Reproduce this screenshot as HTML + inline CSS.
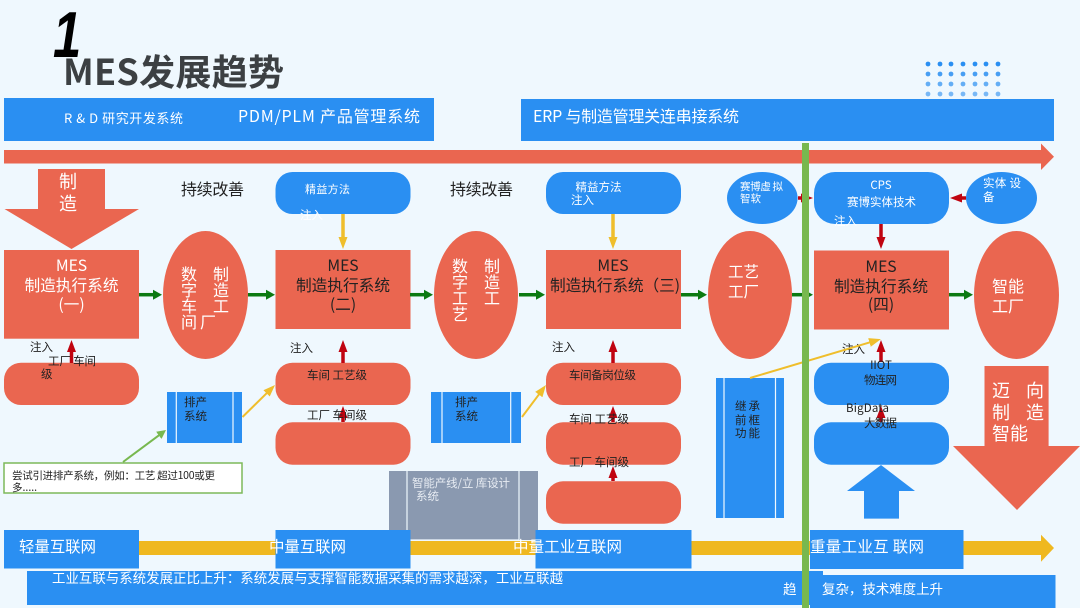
<!DOCTYPE html>
<html><head><meta charset="utf-8"><style>
html,body{margin:0;padding:0;background:#eff8fe}
svg{display:block;width:1080px;height:608px}
text{font-family:"Noto Sans CJK SC","Liberation Sans",sans-serif;font-size:11.5px;fill:#222}
.w{fill:#fff}
.m{font-size:15.7px}
.mw{font-size:15.7px;fill:#fff}
.c{text-anchor:middle}
.b{fill:#2a8ff2}
.r{fill:#ea6650}
</style></head><body>
<svg xmlns="http://www.w3.org/2000/svg" width="1080" height="608" viewBox="0 0 1080 608">
<rect width="1080" height="608" fill="#eff8fe"/>
<defs>
<marker id="g" markerUnits="userSpaceOnUse" markerWidth="10" markerHeight="12" refX="1" refY="6" orient="auto"><path d="M0 1L9 6L0 11Z" fill="#0c7a12"/></marker>
<marker id="rd" markerUnits="userSpaceOnUse" markerWidth="13" markerHeight="12" refX="1" refY="6" orient="auto"><path d="M0 1.5L12 6L0 10.5Z" fill="#c00410"/></marker>
<marker id="y" markerUnits="userSpaceOnUse" markerWidth="13" markerHeight="12" refX="1" refY="6" orient="auto"><path d="M0 1.5L12 6L0 10.5Z" fill="#efbe2c"/></marker>
<marker id="lg" markerUnits="userSpaceOnUse" markerWidth="11" markerHeight="12" refX="1" refY="6" orient="auto"><path d="M0 1.5L9 6L0 10.5Z" fill="#78b84f"/></marker>
</defs>

<!-- dots -->
<g fill="#2a8ff2">
<g opacity="1"><circle cx="928" cy="64" r="2.4"/><circle cx="940" cy="64" r="2.4"/><circle cx="951" cy="64" r="2.4"/><circle cx="963" cy="64" r="2.4"/><circle cx="975" cy="64" r="2.4"/><circle cx="986" cy="64" r="2.4"/><circle cx="998" cy="64" r="2.4"/></g>
<g opacity=".85"><circle cx="928" cy="74" r="2.4"/><circle cx="940" cy="74" r="2.4"/><circle cx="951" cy="74" r="2.4"/><circle cx="963" cy="74" r="2.4"/><circle cx="975" cy="74" r="2.4"/><circle cx="986" cy="74" r="2.4"/><circle cx="998" cy="74" r="2.4"/></g>
<g opacity=".7"><circle cx="928" cy="84" r="2.4"/><circle cx="940" cy="84" r="2.4"/><circle cx="951" cy="84" r="2.4"/><circle cx="963" cy="84" r="2.4"/><circle cx="975" cy="84" r="2.4"/><circle cx="986" cy="84" r="2.4"/><circle cx="998" cy="84" r="2.4"/></g>
<g opacity=".6"><circle cx="928" cy="94" r="2.4"/><circle cx="940" cy="94" r="2.4"/><circle cx="951" cy="94" r="2.4"/><circle cx="963" cy="94" r="2.4"/><circle cx="975" cy="94" r="2.4"/><circle cx="986" cy="94" r="2.4"/><circle cx="998" cy="94" r="2.4"/></g>
</g>

<!-- title -->
<text transform="translate(53 57) scale(.78 1)" style="font-family:'Liberation Sans',sans-serif;font-size:65px;font-weight:bold;font-style:italic;fill:#000">1</text>
<text x="63" y="85" textLength="221" style="font-size:36px;font-weight:bold;fill:#3c4043">MES发展趋势</text>

<!-- top bars -->
<rect class="b" x="4" y="98" width="430" height="43"/>
<rect class="b" x="521" y="99" width="533" height="42"/>
<text class="w" x="64" y="123" textLength="119" style="font-size:13px">R &amp; D 研究开发系统</text>
<text class="w" x="238" y="122" textLength="182" style="font-size:16px">PDM/PLM 产品管理系统</text>
<text class="w" x="533" y="122" textLength="206" style="font-size:16px">ERP 与制造管理关连串接系统</text>
<path class="r" d="M4 150H1041V143.5L1054 156.7L1041 170V163.5H4Z"/>

<!-- top arrow -->
<path class="r" d="M38 169H105V209H139L71.5 249L4.5 209H38Z"/>
<text class="w" x="59" y="188" style="font-size:18px">制</text>
<text class="w" x="59" y="210" style="font-size:18px">造</text>
<text x="181" y="195" textLength="63" style="font-size:16px">持续改善</text>
<text x="450" y="195" textLength="63" style="font-size:16px">持续改善</text>

<!-- top pills -->
<rect class="b" x="275.5" y="172" width="135" height="42" rx="17"/>
<rect class="b" x="546" y="172" width="135" height="42" rx="17"/>
<rect class="b" x="814" y="172" width="135" height="52" rx="21"/>
<ellipse class="b" cx="762.3" cy="198" rx="35.3" ry="26"/>
<ellipse class="b" cx="1001.5" cy="198" rx="35.5" ry="26"/>
<text class="w" x="305" y="193" textLength="45" style="font-size:11px">精益方法</text>
<text class="w" x="300" y="219">注入</text>
<text class="w" x="575.5" y="191" textLength="46">精益方法</text>
<text class="w" x="571" y="204">注入</text>
<text class="w" x="740" y="190" textLength="43" style="font-size:10.5px">赛博虚 拟</text>
<text class="w" x="740" y="202" style="font-size:10.5px">智软</text>
<text class="w c" x="881" y="189">CPS</text>
<text class="w" x="847" y="206" textLength="69">赛博实体技术</text>
<text class="w" x="834" y="225">注入</text>
<text class="w" x="983" y="187" textLength="38">实体 设</text>
<text class="w" x="983" y="201">备</text>

<!-- connectors top -->
<g fill="none" stroke-width="3.5">
<line x1="343" y1="214" x2="343" y2="238" stroke="#efbe2c" marker-end="url(#y)"/>
<line x1="613" y1="214" x2="613" y2="238" stroke="#efbe2c" marker-end="url(#y)"/>
<line x1="881" y1="224" x2="881" y2="238" stroke="#c00410" marker-end="url(#rd)"/>
<line x1="966" y1="198" x2="961" y2="198" stroke="#c00410" marker-end="url(#rd)"/>
<line x1="798" y1="198" x2="802" y2="198" stroke="#c00410" marker-end="url(#rd)"/>
</g>

<!-- MES boxes -->
<rect class="r" x="4" y="250" width="135" height="88.7"/>
<rect class="r" x="275.5" y="250" width="135" height="79"/>
<rect class="r" x="546" y="250" width="135" height="79"/>
<rect class="r" x="814" y="250.5" width="135" height="79"/>
<ellipse class="r" cx="205.5" cy="295" rx="42.5" ry="64"/>
<ellipse class="r" cx="476" cy="295" rx="42" ry="64"/>
<ellipse class="r" cx="750" cy="295" rx="42" ry="64"/>
<ellipse class="r" cx="1016.5" cy="295" rx="42.5" ry="64"/>

<text class="mw c" x="71.5" y="271">MES</text>
<text class="mw c" x="71.5" y="291">制造执行系统</text>
<text class="mw c" x="71.5" y="310">(一)</text>
<text class="m c" x="343" y="271">MES</text>
<text class="m c" x="343" y="291">制造执行系统</text>
<text class="m c" x="343" y="310">(二)</text>
<text class="m c" x="613" y="271">MES</text>
<text class="m" x="550" y="291" textLength="130">制造执行系统（三)</text>
<text class="m c" x="881" y="272">MES</text>
<text class="m c" x="881" y="292">制造执行系统</text>
<text class="m c" x="881" y="310">(四)</text>

<g style="font-size:16px">
<text class="w" x="181" y="280" style="font-size:16px">数</text><text class="w" x="181" y="296" style="font-size:16px">字</text><text class="w" x="181" y="312" style="font-size:16px">车</text><text class="w" x="181" y="328" style="font-size:16px">间</text>
<text class="w" x="213" y="280" style="font-size:16px">制</text><text class="w" x="213" y="296" style="font-size:16px">造</text><text class="w" x="213" y="312" style="font-size:16px">工</text><text class="w" x="200" y="328" style="font-size:16px">厂</text>
<text class="w" x="452" y="272" style="font-size:16px">数</text><text class="w" x="452" y="288" style="font-size:16px">字</text><text class="w" x="452" y="304" style="font-size:16px">工</text><text class="w" x="452" y="320" style="font-size:16px">艺</text>
<text class="w" x="484" y="272" style="font-size:16px">制</text><text class="w" x="484" y="288" style="font-size:16px">造</text><text class="w" x="484" y="304" style="font-size:16px">工</text>
<text class="w" x="728" y="277" style="font-size:15.5px">工艺</text><text class="w" x="728" y="297" style="font-size:15.5px">工厂</text>
<text class="w" x="992" y="292" style="font-size:16px">智能</text><text class="w" x="992" y="312" style="font-size:16px">工厂</text>
</g>

<!-- green arrows -->
<g stroke="#0c7a12" stroke-width="3.5" fill="none">
<line x1="139" y1="294.7" x2="154" y2="294.7" marker-end="url(#g)"/>
<line x1="248" y1="294.7" x2="267" y2="294.7" marker-end="url(#g)"/>
<line x1="410" y1="294.7" x2="425" y2="294.7" marker-end="url(#g)"/>
<line x1="519" y1="294.7" x2="537" y2="294.7" marker-end="url(#g)"/>
<line x1="681" y1="294.7" x2="699" y2="294.7" marker-end="url(#g)"/>
<line x1="792" y1="294.7" x2="805" y2="294.7" marker-end="url(#g)"/>
<line x1="949" y1="294.7" x2="965" y2="294.7" marker-end="url(#g)"/>
</g>

<!-- pills -->
<rect class="r" x="4" y="362.7" width="135" height="42.3" rx="17"/>
<rect class="r" x="275.5" y="362.7" width="135" height="42.3" rx="17"/>
<rect class="r" x="275.5" y="422.3" width="135" height="42.4" rx="17"/>
<rect class="r" x="546" y="362.7" width="135" height="42.3" rx="17"/>
<rect class="r" x="546" y="422.3" width="135" height="42.4" rx="17"/>
<rect class="r" x="546" y="481.3" width="135" height="42.4" rx="17"/>
<rect class="b" x="814" y="362.7" width="135" height="42.3" rx="17"/>
<rect class="b" x="814" y="422.3" width="135" height="42.4" rx="17"/>

<!-- red ups -->
<g stroke="#c00410" stroke-width="3.5" fill="none">
<line x1="71.5" y1="363" x2="71.5" y2="351" marker-end="url(#rd)"/>
<line x1="343" y1="363" x2="343" y2="351" marker-end="url(#rd)"/>
<line x1="343" y1="422" x2="343" y2="417" marker-end="url(#rd)"/>
<line x1="613" y1="363" x2="613" y2="351" marker-end="url(#rd)"/>
<line x1="613" y1="422" x2="613" y2="417" marker-end="url(#rd)"/>
<line x1="613" y1="481" x2="613" y2="477" marker-end="url(#rd)"/>
<line x1="881" y1="362" x2="881" y2="351" marker-end="url(#rd)"/>
<line x1="881" y1="422" x2="881" y2="417" marker-end="url(#rd)"/>
</g>

<text x="30" y="351">注入</text>
<text x="48" y="365" textLength="48">工厂 车间</text>
<text x="41" y="378">级</text>
<text x="290" y="352">注入</text>
<text x="307" y="379" textLength="60">车间 工艺级</text>
<text x="307" y="419" textLength="60">工厂 车间级</text>
<text x="552" y="351">注入</text>
<text x="569" y="379" textLength="67">车间备岗位级</text>
<text x="569" y="423" textLength="60">车间 工艺级</text>
<text x="569" y="466" textLength="60">工厂 车间级</text>
<text x="842" y="353">注入</text>
<text class="c" x="881" y="369">IIOT</text>
<text x="864" y="384" textLength="33">物连网</text>
<text x="846" y="412" textLength="43">BigData</text>
<text x="864" y="427" textLength="33">大数据</text>

<!-- process boxes -->
<rect class="b" x="167" y="392" width="75" height="51"/>
<path d="M176.3 392V443M233 392V443" stroke="#eff8fe" stroke-width="1.2"/>
<rect class="b" x="431" y="392" width="90" height="51"/>
<path d="M442 392V443M510.7 392V443" stroke="#eff8fe" stroke-width="1.2"/>
<rect class="b" x="716" y="378" width="68" height="140"/>
<path d="M724 378V518M775.5 378V518" stroke="#eff8fe" stroke-width="1.2"/>
<text x="184" y="406">排产</text><text x="184" y="420">系统</text>
<text x="455" y="406">排产</text><text x="455" y="420">系统</text>
<text x="735" y="410" textLength="25">继 承</text>
<text x="735" y="424" textLength="25">前 框</text>
<text x="735" y="437" textLength="25">功 能</text>

<!-- gray -->
<rect x="389" y="471" width="149" height="69" fill="#8a99b0"/>
<path d="M407 471V540M519 471V540M407 540H519" stroke="#eff8fe" stroke-width="1.2" fill="none"/>
<text x="412" y="487" textLength="98" style="fill:#e6ebf2">智能产线/立 库设计</text>
<text x="416" y="500" style="fill:#e6ebf2">系统</text>

<!-- note -->
<rect x="4" y="463" width="238" height="30" fill="#fff" stroke="#7db95a" stroke-width="1.5"/>
<text x="12" y="479" textLength="203" style="font-size:10.5px">尝试引进排产系统，例如：工艺 超过100或更</text>
<text x="12" y="491" style="font-size:10.5px">多.....</text>

<!-- diagonals -->
<g fill="none" stroke-width="2">
<line x1="123" y1="462" x2="159.6" y2="434.8" stroke="#78b84f" marker-end="url(#lg)"/>
<line x1="242.5" y1="417" x2="267.2" y2="392.7" stroke="#efbe2c" marker-end="url(#y)"/>
<line x1="522" y1="417" x2="539.4" y2="393.8" stroke="#efbe2c" marker-end="url(#y)"/>
<line x1="750" y1="378" x2="870.4" y2="342.2" stroke="#efbe2c" marker-end="url(#y)"/>
</g>

<!-- side arrows -->
<path class="b" d="M864 518.6V491H847L881 465L915 491H899V518.6Z"/>
<path class="r" d="M984.5 366H1048.6V446H1080L1017 510L953 446H984.5Z"/>
<text class="w" x="992" y="397" style="font-size:18px">迈</text><text class="w" x="1026" y="397" style="font-size:18px">向</text>
<text class="w" x="992" y="419" style="font-size:18px">制</text><text class="w" x="1026" y="419" style="font-size:18px">造</text>
<text class="w" x="992" y="440" style="font-size:18px">智能</text>

<!-- bottom -->
<path d="M139 541H1041V534.7L1054 548L1041 561.7V555H139Z" fill="#efb820"/>
<rect class="b" x="4" y="530" width="135" height="38.5"/>
<rect class="b" x="275.5" y="530" width="135" height="38.5"/>
<rect class="b" x="535.5" y="530" width="156" height="38.5"/>
<rect class="b" x="810" y="530" width="153.5" height="39"/>
<rect class="b" x="27" y="571" width="796" height="34"/>
<rect class="b" x="810" y="575" width="245.5" height="33"/>
<text class="w" x="19" y="552" textLength="77" style="font-size:15.5px">轻量互联网</text>
<text class="w" x="269" y="552" textLength="77" style="font-size:15.5px">中量互联网</text>
<text class="w" x="513" y="552" textLength="109" style="font-size:15.5px">中量工业互联网</text>
<text class="w" x="810" y="552" textLength="114" style="font-size:15.5px">重量工业互 联网</text>
<text class="w" x="52" y="583" textLength="511" style="font-size:13.4px">工业互联与系统发展正比上升：系统发展与支撑智能数据采集的需求越深，工业互联越</text>
<text class="w" x="783" y="594" style="font-size:13.5px">趋</text>
<text class="w" x="822" y="594" textLength="121" style="font-size:13.5px">复杂，技术难度上升</text>

<!-- green vertical -->
<rect x="802" y="143" width="7" height="465" fill="#78b84f"/>
</svg>
</body></html>
